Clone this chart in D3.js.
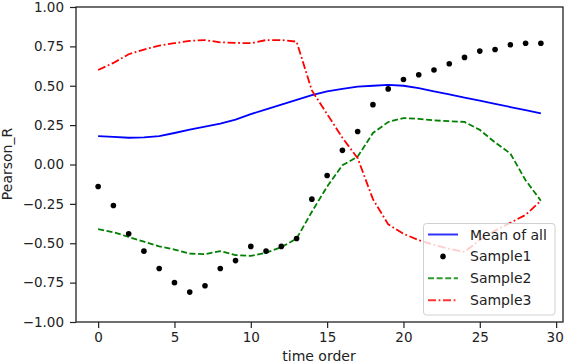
<!DOCTYPE html>
<html>
<head>
<meta charset="utf-8">
<script src="https://cdn.jsdelivr.net/npm/d3@7"></script>
<style>
  body { margin: 0; background: #fff; }
  text { font-family: "DejaVu Sans", sans-serif; fill: #222; }
</style>
</head>
<body>
<svg id="chart" width="564" height="364"></svg>
<script>
// time order 0..29
const time_order = d3.range(0, 30)

const mean_of_all = [0.18, 0.175, 0.17, 0.172, 0.18, 0.20, 0.222, 0.24, 0.26, 0.285,
                     0.32, 0.35, 0.38, 0.41, 0.44, 0.465, 0.48, 0.495, 0.50, 0.505,
                     0.50, 0.485, 0.465, 0.445, 0.425, 0.405, 0.385, 0.365, 0.345, 0.325]

const sample1 = [-0.14, -0.26, -0.44, -0.55, -0.66, -0.75, -0.81, -0.77, -0.66, -0.61,
                 -0.52, -0.55, -0.52, -0.47, -0.22, -0.07, 0.09, 0.21, 0.38, 0.48,
                 0.54, 0.57, 0.60, 0.64, 0.68, 0.72, 0.73, 0.76, 0.77, 0.77]

const sample2 = [-0.41, -0.43, -0.46, -0.49, -0.52, -0.54, -0.565, -0.57, -0.55, -0.575,
                 -0.58, -0.56, -0.525, -0.47, -0.30, -0.14, -0.005, 0.05, 0.20, 0.27,
                 0.295, 0.29, 0.28, 0.275, 0.27, 0.22, 0.14, 0.07, -0.10, -0.23]

const sample3 = [0.60, 0.645, 0.70, 0.73, 0.755, 0.77, 0.785, 0.79, 0.776, 0.772,
                 0.77, 0.79, 0.79, 0.78, 0.47, 0.32, 0.17, 0.04, -0.22, -0.38,
                 -0.44, -0.48, -0.51, -0.535, -0.555, -0.48, -0.42, -0.37, -0.32, -0.23]

const x_ticks = [0, 5, 10, 15, 20, 25, 30]
const y_ticks = [-1, -0.75, -0.5, -0.25, 0, 0.25, 0.5, 0.75, 1]
const LEGEND = ['Mean of all', 'Sample1', 'Sample2', 'Sample3']

function whenDocumentLoaded(action) {
  if (document.readyState === "loading") {
    document.addEventListener("DOMContentLoaded", action);
  } else {
    action();
  }
}

class LineChart {
  constructor(svg_element_id) {
    this.svg = d3.select('#' + svg_element_id);

    const x = d3.scaleLinear().domain([-1.45, 30.45]).range([76, 563]);
    const y = d3.scaleLinear().domain([-1, 1]).range([322, 7]);

    const line = d3.line()
                   .x((d, i) => x(time_order[i]))
                   .y(d => y(d));

    // lines
    this.svg.append('path')
      .attr('d', line(mean_of_all))
      .attr('fill', 'none')
      .attr('stroke', '#0000ff')
      .attr('stroke-width', 1.8);

    this.svg.append('path')
      .attr('d', line(sample2))
      .attr('fill', 'none')
      .attr('stroke', '#008000')
      .attr('stroke-width', 1.8)
      .attr('stroke-dasharray', '6,2.6');

    this.svg.append('path')
      .attr('d', line(sample3))
      .attr('fill', 'none')
      .attr('stroke', '#ff0000')
      .attr('stroke-width', 1.8)
      .attr('stroke-dasharray', '8,2.6,1.8,2.6');

    this.svg.append('g')
      .selectAll('circle')
      .data(sample1)
      .join('circle')
      .attr('cx', (d, i) => x(time_order[i]))
      .attr('cy', d => y(d))
      .attr('r', 2.8)
      .attr('fill', '#000');

    // axes
    const xAxis = this.svg.append('g')
      .attr('transform', 'translate(0,322)')
      .call(d3.axisBottom(x).tickValues(x_ticks).tickSize(6).tickPadding(4).tickSizeOuter(0));
    const yAxis = this.svg.append('g')
      .attr('transform', 'translate(76,0)')
      .call(d3.axisLeft(y).tickValues(y_ticks).tickFormat(d3.format('.2f')).tickSize(6).tickPadding(6).tickSizeOuter(0));

    [xAxis, yAxis].forEach(a => {
      a.select('.domain').remove();
      a.selectAll('line').attr('stroke', '#222').attr('stroke-width', 1.2);
      a.selectAll('text').attr('font-size', 13.5).attr('font-family', '"DejaVu Sans", sans-serif').attr('fill', '#222');
    });
    // last x label sits right at the edge, like the original
    xAxis.selectAll('text').filter(d => d === 30).attr('dx', -1.5);

    // frame
    this.svg.append('rect')
      .attr('x', 76).attr('y', 7)
      .attr('width', 563 - 76).attr('height', 322 - 7)
      .attr('fill', 'none')
      .attr('stroke', '#222')
      .attr('stroke-width', 1.3);

    // axis labels
    this.svg.append('text')
      .attr('x', 319).attr('y', 361)
      .attr('text-anchor', 'middle')
      .attr('font-size', 14)
      .text('time order');
    this.svg.append('text')
      .attr('transform', 'translate(12,164) rotate(-90)')
      .attr('text-anchor', 'middle')
      .attr('font-size', 14)
      .text('Pearson_R');

    // legend
    const lg = this.svg.append('g');
    lg.append('rect')
      .attr('x', 423.5).attr('y', 223.5)
      .attr('width', 131.5).attr('height', 91.5)
      .attr('rx', 3)
      .attr('fill', '#fff').attr('fill-opacity', 0.8)
      .attr('stroke', '#d0d0d0');

    const styles = [
      {color: '#0000ff', dash: null},
      {color: '#000', dash: null, marker: true},
      {color: '#008000', dash: '6,2.6'},
      {color: '#ff0000', dash: '8,2.6,1.8,2.6'}
    ];
    LEGEND.forEach((name, i) => {
      const cy = 234.5 + i * 21.9;
      const s = styles[i];
      if (s.marker) {
        lg.append('circle').attr('cx', 443).attr('cy', cy).attr('r', 2.8).attr('fill', '#000');
      } else {
        lg.append('line')
          .attr('x1', 428).attr('x2', 458).attr('y1', cy).attr('y2', cy)
          .attr('stroke', s.color).attr('stroke-width', 2)
          .attr('stroke-opacity', 0.8)
          .attr('stroke-dasharray', s.dash);
      }
      lg.append('text')
        .attr('x', 470).attr('y', cy).attr('dy', '0.36em')
        .attr('font-size', 14)
        .text(name);
    });
  }
}

whenDocumentLoaded(() => {
  const plot = new LineChart('chart');
});
</script>
</body>
</html>
